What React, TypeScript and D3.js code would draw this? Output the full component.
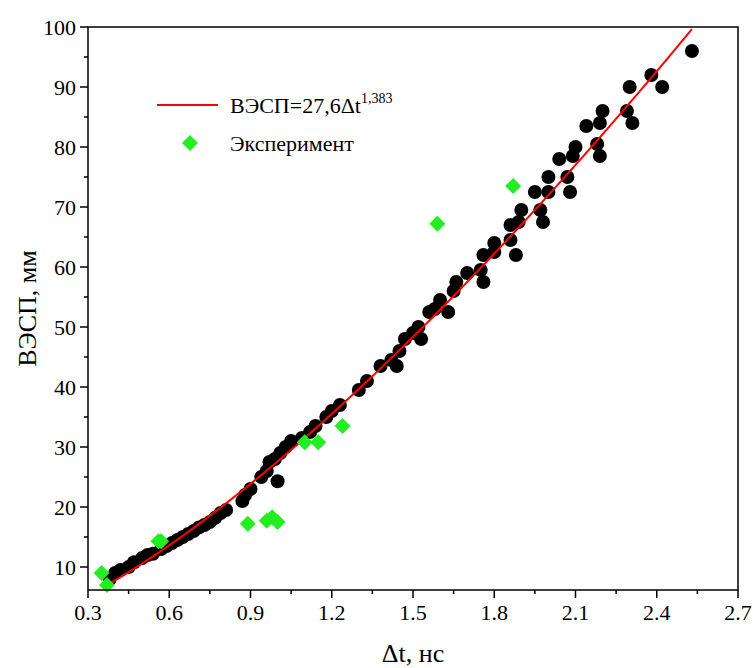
import React from "react";
import * as d3 from "d3";

const blackX = [0.38,0.40,0.42,0.45,0.47,0.50,0.52,0.54,0.57,0.59,0.61,0.63,0.65,0.67,0.69,0.71,0.73,0.75,0.77,0.79,0.81,0.87,0.88,0.90,0.94,0.96,0.97,0.99,1.00,1.01,1.03,1.05,1.09,1.12,1.14,1.18,1.20,1.23,1.30,1.33,1.38,1.42,1.44,1.45,1.47,1.50,1.52,1.53,1.56,1.58,1.60,1.63,1.65,1.66,1.70,1.75,1.76,1.76,1.80,1.80,1.86,1.86,1.88,1.89,1.90,1.95,1.97,1.98,2.00,2.00,2.04,2.07,2.08,2.09,2.10,2.14,2.18,2.19,2.19,2.20,2.29,2.30,2.31,2.38,2.42,2.53];
const blackY = [8,9,9.5,10,10.8,11.5,12,12.2,13,13.5,14,14.5,15,15.5,16,16.6,17,17.5,18.2,19,19.5,21,22,23,25,26,27.5,28,24.3,29,30,31,31.5,32.5,33.5,35,36,37,39.5,41,43.5,44.5,43.5,46,48,49,50,48,52.5,53,54.5,52.5,56,57.5,59,59.5,57.5,62,62.5,64,64.5,67,62,67.5,69.5,72.5,69.5,67.5,72.5,75,78,75,72.5,78.5,80,83.5,80.5,78.5,84,86,86,90,84,92,90,96];
const greenX = [0.35,0.37,0.56,0.57,0.89,0.96,0.98,1.0,1.1,1.15,1.24,1.59,1.87];
const greenY = [9,7,14.3,14.3,17.2,17.7,18.3,17.5,30.8,30.8,33.5,67.2,73.5];
const xTicks = [0.3,0.6,0.9,1.2,1.5,1.8,2.1,2.4,2.7];
const yTicks = [10,20,30,40,50,60,70,80,90,100];

const diamond = "M0,-8L8,0L0,8L-8,0Z";

export default function App() {
  const L = 88, R = 738, T = 27, B = 590;
  const x = d3.scaleLinear().domain([0.3, 2.7]).range([L, R]);
  const y = d3.scaleLinear().domain([100 - (B - T) / 6, 100]).range([B, T]);
  const fitX = d3.range(0.38, 2.5301, 0.01);
  const line = d3.line<number>().x(d => x(d)).y(d => y(27.6 * Math.pow(d, 1.383)));
  const minorX = d3.range(0.45, 2.7, 0.3);
  const minorY = d3.range(15, 100, 10);
  return (
    <svg width={756} height={668} style={{ position: "absolute", left: 0, top: 0, fontFamily: "'Liberation Serif', 'DejaVu Serif', serif" }}>
      <rect width={756} height={668} fill="white" />
      {blackX.map((v, i) => <circle key={i} cx={x(v)} cy={y(blackY[i])} r={7} fill="black" />)}
      <path d={line(fitX) || ""} fill="none" stroke="#ff0000" strokeWidth={2} />
      {greenX.map((v, i) => (
        <path key={i} d={diamond} transform={`translate(${x(v)},${y(greenY[i])})`} fill="#22ee22" />
      ))}
      <rect x={L} y={T} width={R - L} height={B - T} fill="none" stroke="black" strokeWidth={1.5} />
      {xTicks.map(t => (
        <g key={t}>
          <line x1={x(t)} x2={x(t)} y1={B} y2={B + 8} stroke="black" strokeWidth={1.5} />
          <text x={x(t)} y={B + 30} textAnchor="middle" fontSize={22}>{t.toFixed(1)}</text>
        </g>
      ))}
      {minorX.map(t => <line key={t} x1={x(t)} x2={x(t)} y1={B} y2={B + 4} stroke="black" strokeWidth={1.5} />)}
      {yTicks.map(t => (
        <g key={t}>
          <line x1={L - 8} x2={L} y1={y(t)} y2={y(t)} stroke="black" strokeWidth={1.5} />
          <text x={L - 12} y={y(t) + 8} textAnchor="end" fontSize={22}>{t}</text>
        </g>
      ))}
      {minorY.map(t => <line key={t} x1={L - 4} x2={L} y1={y(t)} y2={y(t)} stroke="black" strokeWidth={1.5} />)}
      <text x={(L + R) / 2} y={662} textAnchor="middle" fontSize={26}>Δt, нс</text>
      <text transform={`translate(36,${(T + B) / 2}) rotate(-90)`} textAnchor="middle" fontSize={26}>ВЭСП, мм</text>
      <line x1={157} x2={218} y1={105} y2={105} stroke="#ff0000" strokeWidth={2} />
      <text x={230} y={113} fontSize={22}>ВЭСП=27,6Δt<tspan dy={-10} fontSize={14}>1,383</tspan></text>
      <path d={diamond} transform="translate(190,143)" fill="#22ee22" />
      <text x={230} y={151} fontSize={22}>Эксперимент</text>
    </svg>
  );
}
